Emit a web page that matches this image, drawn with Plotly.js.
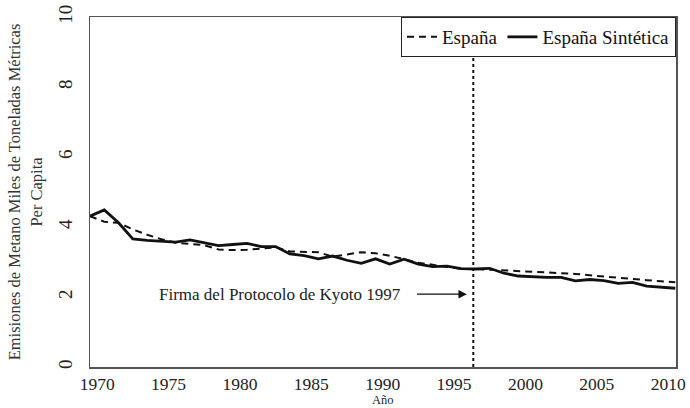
<!DOCTYPE html>
<html>
<head>
<meta charset="utf-8">
<script src="https://cdn.plot.ly/plotly-3.0.1.min.js"></script>
<style>html,body{margin:0;padding:0;background:#fff;}#chart{width:690px;height:408px;}</style>
</head>
<body>
<div id="chart"></div>
<script>
const years = [1969,1970,1971,1972,1973,1974,1975,1976,1977,1978,1979,1980,1981,1982,1983,1984,1985,1986,1987,1988,1989,1990,1991,1992,1993,1994,1995,1996,1997,1998,1999,2000,2001,2002,2003,2004,2005,2006,2007,2008,2009,2010];
const espana = [4.31,4.15,4.12,3.93,3.78,3.65,3.55,3.52,3.48,3.36,3.34,3.35,3.39,3.42,3.30,3.30,3.28,3.15,3.22,3.28,3.25,3.18,3.08,2.98,2.92,2.86,2.80,2.80,2.78,2.77,2.75,2.74,2.72,2.69,2.66,2.62,2.58,2.54,2.52,2.48,2.45,2.42];
const espanaSintetica = [4.31,4.49,4.12,3.66,3.62,3.60,3.57,3.63,3.56,3.47,3.50,3.53,3.44,3.44,3.23,3.18,3.09,3.17,3.05,2.96,3.09,2.94,3.08,2.94,2.87,2.88,2.81,2.80,2.82,2.68,2.60,2.57,2.56,2.56,2.46,2.50,2.47,2.39,2.42,2.31,2.28,2.25];
const tickLabels = ['1970','1975','1980','1985','1990','1995','2000','2005','2010'];
const tickPositions = [1969.5,1974.5,1979.5,1984.5,1989.5,1994.5,1999.5,2004.5,2009.5];
const yTicks = [0,2,4,6,8,10];
const kyotoLine = 1995.85;
const annotationText = 'Firma del Protocolo de Kyoto 1997';
const xTitle = 'Año';

const FONT = 'Liberation Serif, Times New Roman, serif';

const traces = [
  {x: years, y: espana, name: 'España', type: 'scatter', mode: 'lines',
   line: {color: '#111', width: 2, dash: '7px,5px'}},
  {x: years, y: espanaSintetica, name: 'España Sintética', type: 'scatter', mode: 'lines',
   line: {color: '#111', width: 2.8}}
];

const layout = {
  width: 690, height: 408,
  margin: {l: 90, r: 14, t: 17, b: 41},
  paper_bgcolor: '#fff', plot_bgcolor: '#fff',
  font: {family: FONT, color: '#222'},
  showlegend: true,
  legend: {x: 1, xanchor: 'right', y: 1, yanchor: 'top', orientation: 'h',
           bordercolor: '#222', borderwidth: 1, bgcolor: '#fff',
           font: {family: FONT, size: 19, color: '#111'}, tracegroupgap: 0},
  xaxis: {
    range: [1969, 2010.05], tickvals: tickPositions, ticktext: tickLabels,
    ticks: '', showgrid: false, zeroline: false,
    showline: true, mirror: true, linecolor: '#555', linewidth: 1.5,
    tickfont: {family: FONT, size: 17.5, color: '#222'}
  },
  yaxis: {
    range: [0, 10], tickvals: yTicks, tickangle: -90,
    ticks: '', showgrid: false, zeroline: false,
    showline: true, mirror: true, linecolor: '#555', linewidth: 1.5,
    tickfont: {family: FONT, size: 19, color: '#222'}, ticklabelstandoff: 9,
    title: {text: 'Emisiones de Metano Miles de Toneladas Métricas<br>Per Capita',
            font: {family: FONT, size: 16.5, color: '#333'}, standoff: 8}
  },
  shapes: [
    {type: 'line', xref: 'x', yref: 'paper', x0: kyotoLine, x1: kyotoLine, y0: 0, y1: 1,
     line: {color: '#111', width: 2, dash: 'dot'}}
  ],
  annotations: [
    {x: 1995.4, y: 2.08, xref: 'x', yref: 'y', ax: 1991.8, ay: 2.08, axref: 'x', ayref: 'y',
     text: '', showarrow: true, arrowhead: 2, arrowsize: 1.3, arrowwidth: 1.3, arrowcolor: '#111'},
    {x: 1982.3, y: 2.08, xref: 'x', yref: 'y', text: annotationText, showarrow: false,
     font: {family: FONT, size: 17, color: '#222'}},
    {x: 0.5, y: -0.094, xref: 'paper', yref: 'paper', text: xTitle, showarrow: false,
     xanchor: 'center', yanchor: 'middle', font: {family: FONT, size: 12.5, color: '#222'}}
  ]
};

Plotly.newPlot('chart', traces, layout, {displayModeBar: false, staticPlot: true});
</script>
</body>
</html>
